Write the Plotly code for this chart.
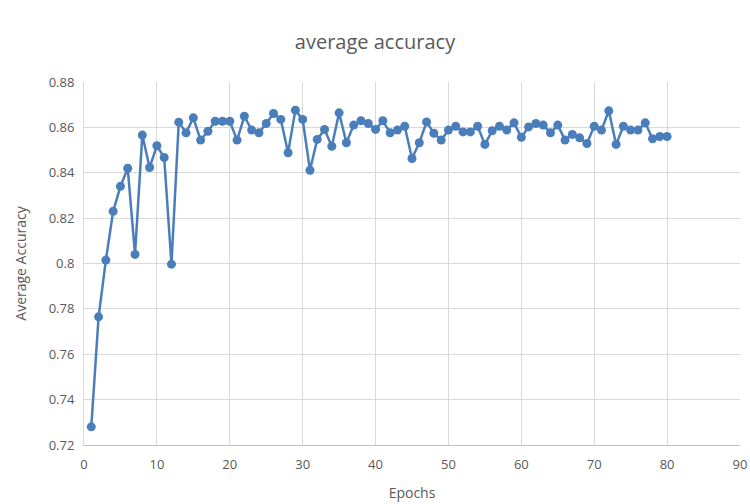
import plotly.graph_objects as go

epochs = list(range(1, 81))
accuracy = [
    0.728, 0.7765, 0.8015, 0.823, 0.834, 0.842, 0.804, 0.8566, 0.8423, 0.8519,
    0.8467, 0.7997, 0.8623, 0.8576, 0.8642, 0.8544, 0.8583, 0.8627, 0.8627, 0.8627,
    0.8544, 0.8649, 0.8588, 0.8576, 0.8617, 0.8661, 0.8635, 0.8488, 0.8676, 0.8635,
    0.8411, 0.8547, 0.8591, 0.8517, 0.8664, 0.8532, 0.861, 0.8629, 0.8617, 0.8591,
    0.8629, 0.8576, 0.8588, 0.8605, 0.8463, 0.8532, 0.8624, 0.8574, 0.8544, 0.8588,
    0.8605, 0.858, 0.858, 0.8605, 0.8525, 0.8585, 0.8605, 0.8588, 0.862, 0.8556,
    0.8602, 0.8617, 0.861, 0.8576, 0.861, 0.8544, 0.8569, 0.8554, 0.8529, 0.8605,
    0.8588, 0.8673, 0.8525, 0.8605, 0.8588, 0.8588, 0.862, 0.855, 0.856, 0.856,
]
y_tickvals = [0.72, 0.74, 0.76, 0.78, 0.80, 0.82, 0.84, 0.86, 0.88]
y_ticktext = ["0.72", "0.74", "0.76", "0.78", "0.8", "0.82", "0.84", "0.86", "0.88"]
x_tickvals = [0, 10, 20, 30, 40, 50, 60, 70, 80, 90]

font_family = "Open Sans, Lato, sans-serif"
gray = "#595959"

fig = go.Figure(
    go.Scatter(
        x=epochs, y=accuracy, mode="lines+markers",
        line=dict(color="#4a7ebb", width=2.5),
        marker=dict(color="#4a7ebb", size=9),
    )
)
fig.update_layout(
    width=750, height=504,
    margin=dict(l=84, r=10, t=82, b=59),
    paper_bgcolor="white", plot_bgcolor="white",
    showlegend=False,
    title=dict(text="average accuracy", x=0.5, xanchor="center", y=0.917, yanchor="middle",
               font=dict(family=font_family, size=20, color=gray)),
    font=dict(family=font_family, color=gray, size=13),
)
fig.update_xaxes(
    range=[0, 90], tickvals=x_tickvals, showgrid=True, gridcolor="#d9d9d9", gridwidth=1,
    zeroline=False, showline=True, linecolor="#bfbfbf", ticks="", ticklabelstandoff=7,
    automargin=False,
    title=dict(text="Epochs", font=dict(size=14, color=gray), standoff=16),
    tickfont=dict(size=13, color=gray),
)
fig.update_yaxes(
    range=[0.72, 0.88], tickvals=y_tickvals, ticktext=y_ticktext, showgrid=True,
    gridcolor="#d9d9d9", gridwidth=1, zeroline=False, showline=True, linecolor="#d9d9d9",
    ticks="", ticklabelstandoff=6, automargin=False,
    title=dict(text="Average Accuracy", font=dict(size=14, color=gray), standoff=18),
    tickfont=dict(size=13, color=gray),
)
fig.write_html("out.html", config={"displayModeBar": False},
               post_script="document.body.style.margin='0';")
